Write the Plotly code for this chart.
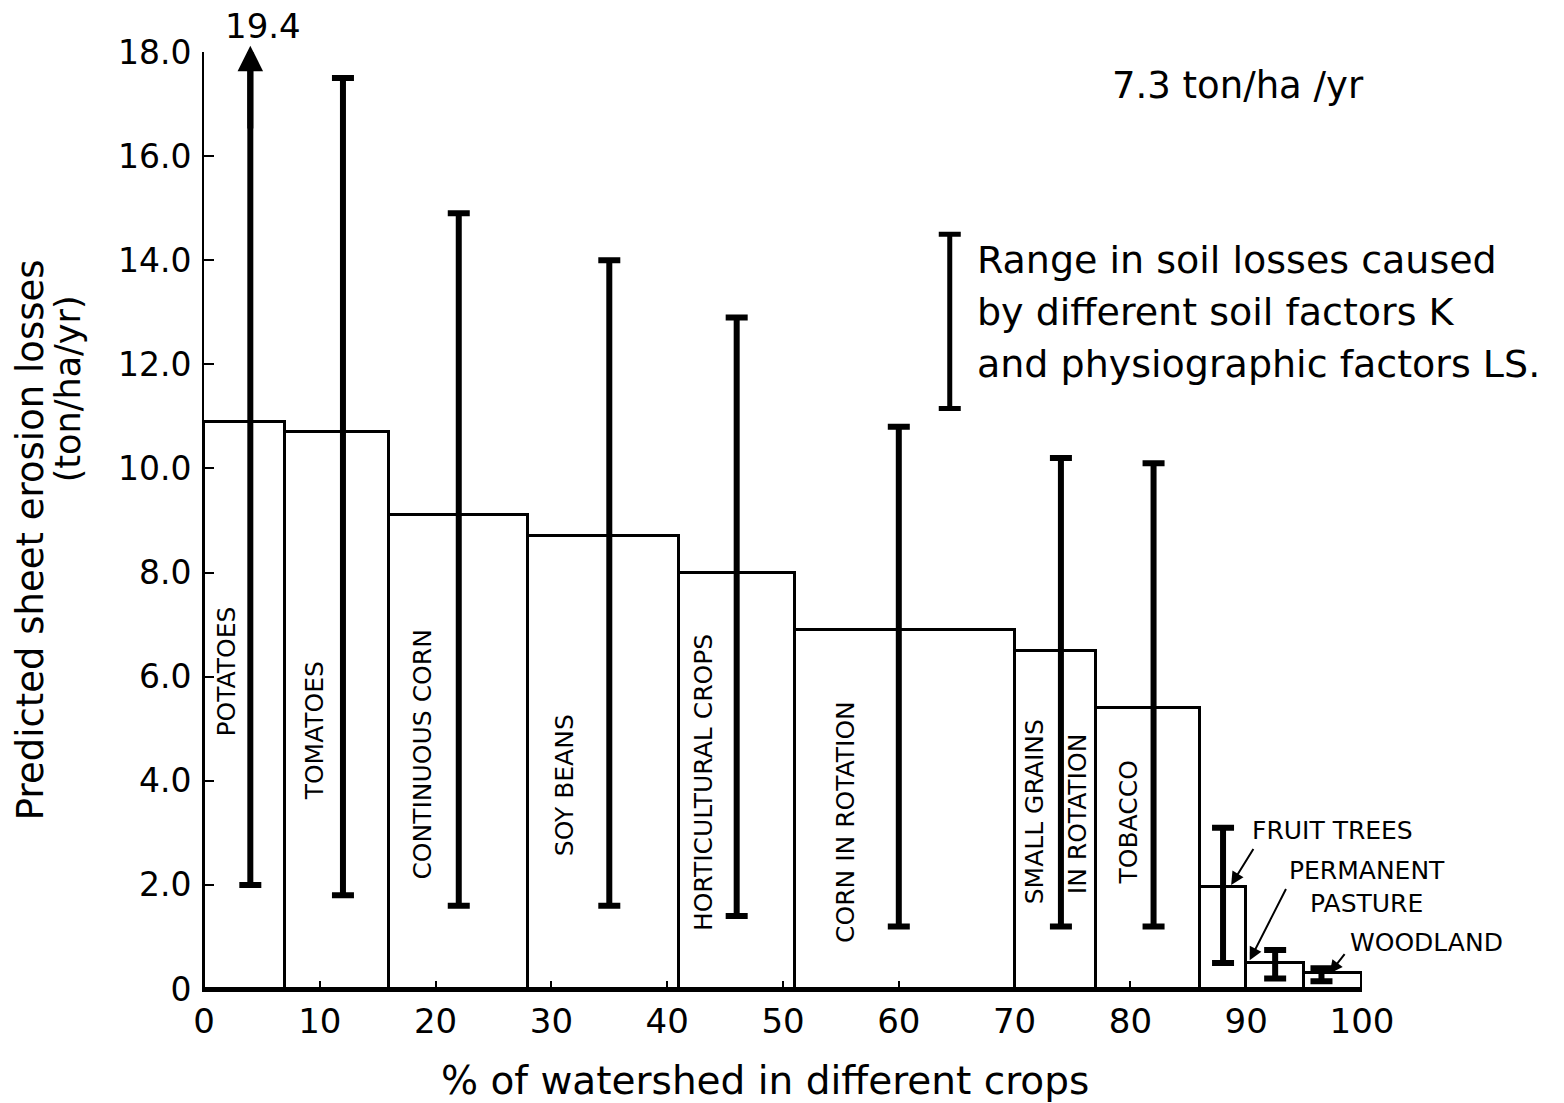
import numpy as np
import plotly.graph_objects as go

# ---- data -------------------------------------------------------------
crops = ["POTATOES", "TOMATOES", "CONTINUOUS CORN", "SOY BEANS",
         "HORTICULTURAL CROPS", "CORN IN ROTATION",
         "SMALL GRAINS<br>IN ROTATION", "TOBACCO",
         "FRUIT TREES", "PERMANENT<br>PASTURE", "WOODLAND"]
# cumulative % of watershed at the boundaries between crops
share_edges = [0, 7, 16, 28, 41, 51, 70, 77, 86, 90, 95, 100]
# predicted mean sheet erosion (ton/ha/yr)
mean_loss = [10.9, 10.7, 9.1, 8.7, 8.0, 6.9, 6.5, 5.4, 1.95, 0.5, 0.3]
# range in soil losses from different K and LS factors
range_x = [4, 12, 22, 35, 46, 60, 74, 82, 88, 92.5, 96.5]
range_low = [2.0, 1.8, 1.6, 1.6, 1.4, 1.2, 1.2, 1.2, 0.5, 0.2, 0.15]
range_high = [19.4, 17.5, 14.9, 14.0, 12.9, 10.8, 10.2, 10.1, 3.1, 0.75, 0.4]
watershed_avg = 7.3

y_tick_vals = [0, 2, 4, 6, 8, 10, 12, 14, 16, 18]
y_tick_text = ["0", "2.0", "4.0", "6.0", "8.0", "10.0", "12.0", "14.0", "16.0", "18.0"]
x_tick_vals = [0, 10, 20, 30, 40, 50, 60, 70, 80, 90, 100]

# legend key range (ton/ha/yr) and its x position
key_x = 64.4
key_low, key_high = 11.15, 14.5

# ---- layout helpers -----------------------------------------------------
FONT = "DejaVu Sans"
INK = "black"

# where the rotated crop names sit inside their bars (x, y in data units)
inbar_label_pos = [(1.9, 6.1), (9.5, 4.95), (18.9, 4.5), (31.2, 3.92),
                   (43.2, 3.96), (55.4, 3.2), None, (79.8, 3.2)]
small_grain_pos = [(71.7, 3.4), (75.4, 3.36)]

edges = np.array(share_edges, dtype=float)
widths = np.diff(edges)
centers = edges[:-1] + widths / 2

fig = go.Figure()

# step-like columns, one per crop, width = share of watershed
fig.add_trace(go.Bar(
    x=centers, y=mean_loss, width=widths,
    marker=dict(color="rgba(0,0,0,0)", line=dict(color=INK, width=3)),
    hoverinfo="skip", showlegend=False,
))

# vertical range bars
lo = np.array(range_low)
hi = np.array(range_high)
fig.add_trace(go.Scatter(
    x=range_x, y=lo, mode="markers",
    marker=dict(size=1, color="rgba(0,0,0,0)"),
    error_y=dict(type="data", symmetric=False, array=hi - lo,
                 arrayminus=[0] * len(lo), color=INK, thickness=6, width=11),
    hoverinfo="skip", showlegend=False,
))

# legend key range bar
fig.add_trace(go.Scatter(
    x=[key_x], y=[key_low], mode="markers",
    marker=dict(size=1, color="rgba(0,0,0,0)"),
    error_y=dict(type="data", symmetric=False, array=[key_high - key_low],
                 arrayminus=[0], color=INK, thickness=5, width=11),
    hoverinfo="skip", showlegend=False,
))

ann = []

# potatoes range runs off the top of the axis: arrow head plus value
ann.append(dict(x=range_x[0], y=18.12, ax=range_x[0], ay=16.5,
                xref="x", yref="y", axref="x", ayref="y", text="",
                showarrow=True, arrowhead=2, arrowsize=0.85, arrowwidth=6,
                arrowcolor=INK))
ann.append(dict(x=range_x[0] + 1.1, y=18.0, xref="x", yref="y",
                text=f"{range_high[0]:.1f}", showarrow=False,
                xanchor="center", yanchor="bottom", yshift=4,
                font=dict(family=FONT, size=34, color=INK)))

# crop names written vertically inside the columns
for name, pos in zip(crops[:8], inbar_label_pos):
    if pos is None:
        continue
    ann.append(dict(x=pos[0], y=pos[1], xref="x", yref="y", text=name,
                    textangle=-90, showarrow=False,
                    xanchor="center", yanchor="middle",
                    font=dict(family=FONT, size=25, color=INK)))
for part, pos in zip(crops[6].split("<br>"), small_grain_pos):
    ann.append(dict(x=pos[0], y=pos[1], xref="x", yref="y", text=part,
                    textangle=-90, showarrow=False,
                    xanchor="center", yanchor="middle",
                    font=dict(family=FONT, size=25, color=INK)))

# call-outs for the narrow columns at the right
callout_font = dict(family=FONT, size=25, color=INK)
ann.append(dict(x=90.3, y=3.05, xref="x", yref="y", text=crops[8],
                xanchor="left", yanchor="middle", showarrow=False,
                font=callout_font))
ann.append(dict(x=100, y=1.96, xref="x", yref="y", xshift=5,
                text=crops[9], xanchor="center", yanchor="middle",
                showarrow=False, font=callout_font))
ann.append(dict(x=98.8, y=0.9, xref="x", yref="y", text=crops[10],
                xanchor="left", yanchor="middle", showarrow=False,
                font=callout_font))
for tip, tail in [((88.7, 2.0), (90.7, 2.72)),
                  ((90.3, 0.55), (93.5, 1.95)),
                  ((97.2, 0.3), (98.6, 0.7))]:
    ann.append(dict(x=tip[0], y=tip[1], ax=tail[0], ay=tail[1],
                    xref="x", yref="y", axref="x", ayref="y", text="",
                    showarrow=True, arrowhead=2, arrowsize=1.3, arrowwidth=2,
                    arrowcolor=INK))

# watershed average
ann.append(dict(x=89.3, y=17.35, xref="x", yref="y",
                text=f"{watershed_avg} ton/ha /yr", showarrow=False,
                xanchor="center", yanchor="middle",
                font=dict(family=FONT, size=37, color=INK)))

# legend text
key_lines = ["Range in soil losses caused",
             "by different soil factors K",
             "and physiographic factors LS."]
for i, line in enumerate(key_lines):
    ann.append(dict(x=66.6, y=14.0 - i * 1.0, xref="x", yref="y",
                    text=line, xanchor="left", yanchor="middle",
                    showarrow=False,
                    font=dict(family=FONT, size=38, color=INK)))

# axis titles
ann.append(dict(x=0, y=0.479, xref="paper", yref="paper", xshift=-174,
                text="Predicted sheet erosion losses", textangle=-90,
                xanchor="center", yanchor="middle",
                showarrow=False, font=dict(family=FONT, size=37, color=INK)))
ann.append(dict(x=0, y=0.64, xref="paper", yref="paper", xshift=-136,
                text="(ton/ha/yr)", textangle=-90,
                xanchor="center", yanchor="middle",
                showarrow=False, font=dict(family=FONT, size=35, color=INK)))
ann.append(dict(x=0.5, y=0, xref="paper", yref="paper", yshift=-91,
                xshift=-18, text="% of watershed in different crops",
                xanchor="center", yanchor="middle",
                showarrow=False, font=dict(family=FONT, size=39, color=INK)))

fig.update_layout(
    width=1564, height=1103,
    margin=dict(l=204, r=202, t=52, b=114),
    paper_bgcolor="white", plot_bgcolor="white",
    bargap=0, showlegend=False,
    annotations=ann,
    font=dict(family=FONT, color=INK),
)
fig.update_xaxes(
    range=[0, 100], tickvals=x_tick_vals, ticks="inside", ticklen=8,
    tickwidth=2, tickcolor=INK, showline=True, linewidth=3, linecolor=INK,
    showgrid=False, zeroline=False,
    tickfont=dict(family=FONT, size=34, color=INK),
)
fig.update_yaxes(
    range=[0, 18], tickvals=y_tick_vals, ticktext=y_tick_text,
    ticks="inside", ticklen=10, tickwidth=2, tickcolor=INK,
    showline=True, linewidth=2, linecolor=INK, showgrid=False,
    zeroline=False, ticklabelstandoff=4,
    tickfont=dict(family=FONT, size=33, color=INK),
)

fig.write_html("out.html")
